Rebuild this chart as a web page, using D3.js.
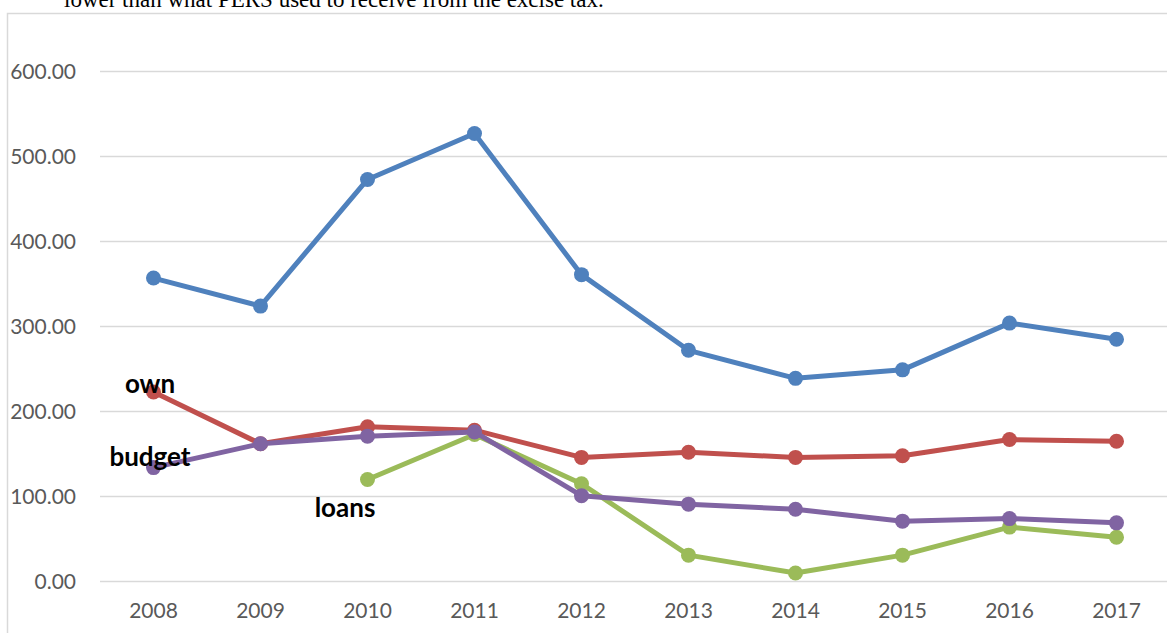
<!DOCTYPE html>
<html>
<head>
<meta charset="utf-8">
<script src="https://cdn.jsdelivr.net/npm/d3@7"></script>
<style>
  body { margin: 0; background: #fff; overflow: hidden; }
  svg { display: block; }
</style>
</head>
<body>
<div class="container"></div>
<script>
window.onload = () => {

  const years = ['2008', '2009', '2010', '2011', '2012', '2013', '2014', '2015', '2016', '2017'];
  const yTicks = [0, 100, 200, 300, 400, 500, 600];
  const totalValues = [357, 324, 473, 527, 361, 272, 239, 249, 304, 285];
  const ownValues = [223, 162, 182, 178, 146, 152, 146, 148, 167, 165];
  const loansValues = [null, null, 120, 173, 115, 31, 10, 31, 64, 52];
  const budgetValues = [134, 162, 171, 176, 101, 91, 85, 71, 74, 69];
  const seriesNames = ['total', 'own', 'loans', 'budget'];
  const labels = [
    { text: 'own', x: 150, y: 393 },
    { text: 'budget', x: 150, y: 466 },
    { text: 'loans', x: 345, y: 517 }
  ];

  const colors = {
    total: '#4F81BD',
    own: '#C0504D',
    loans: '#9BBB59',
    budget: '#8064A2'
  };

  const width = 1167;
  const height = 633;

  const svg = d3.select('.container')
    .append('svg')
    .attr('width', width)
    .attr('height', height);

  // Text above the chart, cut off by the crop
  svg.append('text')
    .attr('x', 64)
    .attr('y', 7)
    .attr('font-family', 'Liberation Serif, serif')
    .attr('font-size', 23)
    .attr('fill', '#000')
    .text('lower than what PERS used to receive from the excise tax.');

  // Chart border
  svg.append('rect')
    .attr('x', 7.5)
    .attr('y', 13.5)
    .attr('width', 1200)
    .attr('height', 700)
    .attr('fill', '#fff')
    .attr('stroke', '#d9d9d9')
    .attr('stroke-width', 1.5);

  const x = d3.scaleBand()
    .domain(years)
    .range([100, 1170])
    .padding(0);

  const y = d3.scaleLinear()
    .domain([0, 600])
    .range([581.5, 71.5]);

  const cx = d => x(d) + x.bandwidth() / 2;

  // Gridlines
  svg.append('g')
    .selectAll('line')
    .data(yTicks)
    .enter()
    .append('line')
    .attr('x1', 100)
    .attr('x2', 1170)
    .attr('y1', d => y(d))
    .attr('y2', d => y(d))
    .attr('stroke', '#d9d9d9')
    .attr('stroke-width', 1.5);

  // Y axis labels
  const yAxis = svg.append('g')
    .attr('transform', 'translate(90,0)')
    .call(d3.axisLeft(y).tickValues(yTicks).tickFormat(d3.format('.2f')).tickSize(0).tickPadding(14));
  yAxis.select('.domain').remove();
  yAxis.selectAll('text')
    .attr('font-family', 'Lato, sans-serif')
    .attr('font-size', 21)
    .attr('fill', '#595959');

  // X axis labels
  const xAxis = svg.append('g')
    .attr('transform', 'translate(0,581.5)')
    .call(d3.axisBottom(x).tickSize(0).tickPadding(22));
  xAxis.select('.domain').remove();
  xAxis.selectAll('text')
    .attr('font-family', 'Lato, sans-serif')
    .attr('font-size', 21)
    .attr('fill', '#595959');

  const seriesData = {
    total: totalValues,
    own: ownValues,
    loans: loansValues,
    budget: budgetValues
  };

  const line = d3.line()
    .defined(d => d.v !== null)
    .x(d => cx(d.year))
    .y(d => y(d.v));

  // Rendering series
  seriesNames.forEach(name => {
    const pts = years.map((year, i) => ({ year: year, v: seriesData[name][i] }));
    const g = svg.append('g').attr('class', 'series-' + name);

    g.append('path')
      .datum(pts)
      .attr('fill', 'none')
      .attr('stroke', colors[name])
      .attr('stroke-width', 5)
      .attr('stroke-linejoin', 'round')
      .attr('d', line);

    g.selectAll('circle')
      .data(pts.filter(d => d.v !== null))
      .enter()
      .append('circle')
      .attr('cx', d => cx(d.year))
      .attr('cy', d => y(d.v))
      .attr('r', 7.5)
      .attr('fill', colors[name]);
  });

  // Series labels
  svg.append('g')
    .selectAll('text')
    .data(labels)
    .enter()
    .append('text')
    .attr('x', d => d.x)
    .attr('y', d => d.y)
    .attr('text-anchor', 'middle')
    .attr('font-family', 'Lato, sans-serif')
    .attr('font-weight', 'bold')
    .attr('font-size', 26)
    .attr('fill', '#000')
    .text(d => d.text);
};
</script>
</body>
</html>
